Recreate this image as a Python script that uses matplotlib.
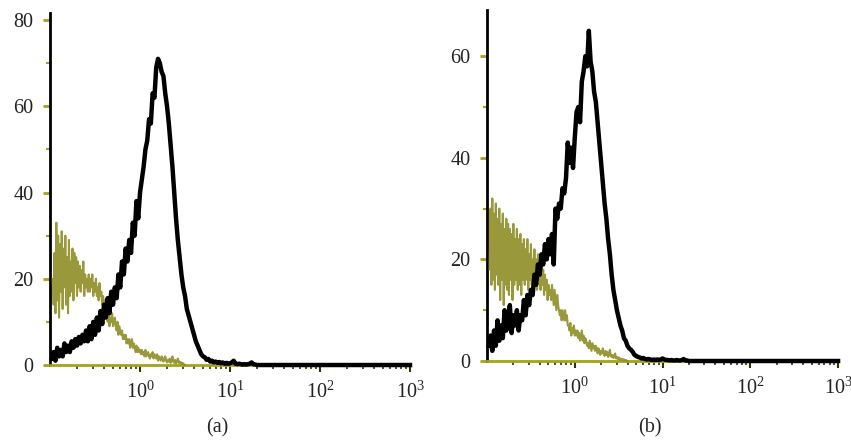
#plot.py
#
#Two flow cytometry histograms (a) and (b), log x axis, counts on y
#
import matplotlib.pyplot as plt
import numpy as np

plt.rcParams['font.family'] = ['Liberation Serif', 'DejaVu Serif']
plt.rcParams['mathtext.fontset'] = 'custom'
plt.rcParams['mathtext.rm'] = 'Liberation Serif'
plt.rcParams['mathtext.it'] = 'Liberation Serif:italic'

BLACK_START = -0.98   #log10 of first channel of the black histograms
BLACK_STEP = 0.02
OLIVE_START = -0.97   #log10 of first channel of the olive histograms
OLIVE_STEP = 0.01

#panel (a) stained sample (black)
black_a = [1.5, 3, 1, 4, 2, 3.5, 2, 5, 3, 4.5,
           3, 5.5, 4, 6, 4.5, 6.5, 5, 7, 5.5,
           8, 5.5, 9, 6, 10, 7, 11, 8, 12.5, 9.5,
           14, 11, 15.5, 12, 17, 14, 18, 15.5, 21, 18,
           24, 21, 27, 24, 29, 26, 33, 30, 38, 34, 40,
           43, 46, 50, 52, 57, 56, 63, 62, 69, 71,
           70, 68, 67, 63, 60, 56, 51, 46, 40, 34,
           29, 25, 21, 18, 16, 13, 11.5, 10, 8.5, 7,
           5.5, 4.5, 3.5, 2.5, 2, 1.8, 1.2, 1.4, 0.8, 1,
           0.6, 0.8, 0.5, 0.7, 0.4, 0.6, 0.3, 0.5, 0.3, 0.4,
           0.6, 1, 0.3, 0.2, 0.3, 0.2, 0.1, 0.2, 0.1, 0.2,
           0.3, 0.6, 0.2, 0.1, 0]

#panel (a) control (olive)
olive_a = [20, 14, 26, 12, 33, 15, 30, 11, 28, 17,
           31, 13, 27, 18, 30, 14, 25, 12, 29, 16,
           24, 17, 27, 15, 26, 19, 25, 16, 24, 18,
           23, 17, 22, 19, 24, 16, 21, 18, 20, 17,
           21, 17, 20, 18, 21, 16, 19, 17, 20, 16,
           18, 15, 19, 16, 17, 14, 16, 13, 15, 12,
           13, 10, 12, 9, 11, 10, 12, 9, 10, 11,
           9, 8, 10, 7, 9, 8, 7, 8, 6, 7,
           6, 7, 5, 6, 5, 6, 4, 5, 6, 4,
           5, 4, 3, 4.5, 3, 4, 3, 3.5, 2.5, 3.5,
           2.5, 3, 2, 3.5, 2, 2.5, 3, 2, 1.5, 2.5,
           2, 3, 1.5, 2.5, 2, 1.5, 2.5, 1, 2, 1.5,
           1, 2, 1.5, 0.8, 1.5, 2, 1, 0.6, 1.2, 0.8,
           1.5, 0.5, 1, 2, 0.8, 0.5, 1.2, 0.4, 0.8, 1.5,
           0.5, 0.8, 0.3, 0.6, 0.2, 0.4, 0.1, 0]

#panel (b) stained sample (black)
black_b = [3, 5, 2, 6, 3, 8, 4, 7, 4.5, 10,
           6, 8, 11, 5.5, 9, 7, 10, 6, 9, 8,
           12, 9, 13, 11, 14, 13, 17, 15, 19, 17,
           21, 19, 23, 20, 24, 21, 25, 19, 30, 28,
           31, 30, 34, 33, 36, 43, 39, 42, 38, 44,
           49, 50, 47, 55, 57, 60, 58, 65, 59, 57,
           53, 51, 47, 43, 39, 35, 31, 28, 24, 21,
           17, 14, 12, 10, 8.5, 7, 6, 4.5, 4, 3,
           2.5, 2.2, 1.8, 1.2, 1, 0.8, 0.7, 0.5, 0.6, 0.4,
           0.3, 0.4, 0.3, 0.2, 0.3, 0.2, 0.3, 0.2, 0.3, 0.5,
           0.3, 0.2, 0.2, 0.1, 0.2, 0.1, 0.1, 0.2, 0.1, 0.1,
           0.2, 0.4, 0.1, 0.1, 0]

#panel (b) control (olive)
olive_b = [18, 30, 15, 32, 16, 29, 14, 31, 17, 28,
           15, 30, 12, 27, 16, 29, 11, 26, 15, 28,
           14, 27, 13, 26, 16, 25, 12, 27, 15, 24,
           16, 26, 14, 24, 15, 25, 13, 23, 16, 24,
           15, 22, 16, 24, 14, 21, 16, 23, 15, 20,
           16, 22, 15, 20, 14, 21, 16, 19, 14, 20,
           15, 18, 13, 17, 14, 16, 12, 15, 13, 14,
           12, 15, 13, 11, 14, 12, 10, 13, 11, 10,
           9, 10, 8, 10, 9, 8, 10, 8, 9, 7,
           7, 6, 7.5, 5, 6.5, 5.5, 7, 5, 6, 5,
           6, 4.5, 5.5, 4, 5, 6, 4, 5, 3.5, 4.5,
           4, 3, 3.5, 2.5, 4, 3, 2, 3.5, 2.5, 3,
           2, 3, 2.5, 1.5, 2.5, 2, 1.2, 2, 1.5, 2.5,
           1.5, 1, 2, 1.2, 1.8, 0.8, 1.4, 2.2, 1, 0.8,
           1.2, 0.6, 1, 1.5, 0.5, 0.8, 0.4, 0.7, 0.3, 0.5,
           0.2, 0.4, 0.2, 0.3, 0.1, 0.2, 0.1, 0]

y_ticks_a = [0, 20, 40, 60, 80]
y_ticks_b = [0, 20, 40, 60]
x_ticks = [1, 10, 100, 1000]
panels = ['(a)', '(b)']

OLIVE = '#8e8e26'
AXIS_OLIVE = '#a3a31c'
TEXT = '#222222'

fig = plt.figure(figsize=(8.51, 4.41), dpi=100)
ax_a = fig.add_axes([0.0588, 0.1723, 0.423, 0.798])
ax_b = fig.add_axes([0.5723, 0.1814, 0.4125, 0.796])


def channels(start, step, n):
    return 10 ** (start + step * np.arange(n))


def draw(ax, black, olive, ytop, yticks):
    xo = channels(OLIVE_START, OLIVE_STEP, len(olive))
    xb = channels(BLACK_START, BLACK_STEP, len(black))
    xb = np.append(xb, 1000)
    yb = np.append(black, 0)
    ax.plot(xo, olive, color=OLIVE, lw=1.5, alpha=0.9, clip_on=False, zorder=3)
    ax.plot(xb, yb, color='black', lw=3.2, clip_on=False, zorder=4,
            solid_joinstyle='round')
    ax.set_xscale('log')
    ax.set_xlim(0.1, 1000)
    ax.set_ylim(0, ytop)
    ax.set_xticks(x_ticks)
    ax.set_yticks(yticks)
    ax.set_yticks(np.array(yticks[:-1]) + 10, minor=True)
    for s in ['top', 'right']:
        ax.spines[s].set_visible(False)
    ax.spines['left'].set_color('black')
    ax.spines['left'].set_linewidth(2)
    ax.spines['bottom'].set_color(AXIS_OLIVE)
    ax.spines['bottom'].set_linewidth(2)
    ax.tick_params(axis='y', which='major', colors=AXIS_OLIVE, length=5, width=2,
                   labelcolor=TEXT, labelsize=14.5, pad=7)
    ax.tick_params(axis='y', which='minor', colors=AXIS_OLIVE, length=3, width=1.5)
    ax.tick_params(axis='x', which='major', colors='#333300', length=5, width=1.5,
                   labelcolor=TEXT, labelsize=14.5, pad=7)
    ax.tick_params(axis='x', which='minor', colors='#333300', length=3, width=1.2,
                   labelbottom=False)


draw(ax_a, black_a, olive_a, 81.6, y_ticks_a)
draw(ax_b, black_b, olive_b, 69.1, y_ticks_b)

fig.text(217 / 851, 1 - 428 / 441, panels[0], ha='center', va='center',
         fontsize=14.5, color=TEXT)
fig.text(650 / 851, 1 - 428 / 441, panels[1], ha='center', va='center',
         fontsize=14.5, color=TEXT)

fig.savefig('out.png', dpi=100)
